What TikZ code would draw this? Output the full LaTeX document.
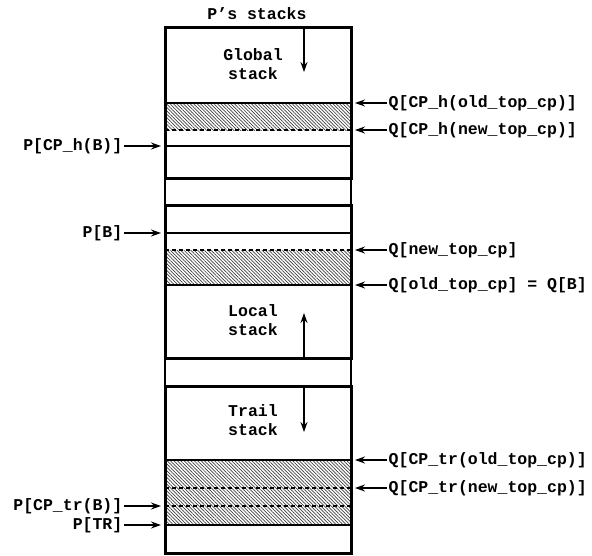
\documentclass[tikz,border=0pt]{standalone}
\usepackage{fontspec}
\setmonofont{Liberation Mono}
\usetikzlibrary{arrows.meta,positioning,patterns.meta}

\tikzset{
  lbl/.style={font=\fontsize{16.5}{19}\selectfont\ttfamily\bfseries, inner xsep=1.5pt, inner ysep=0pt},
  ptr/.style={-{Stealth[length=10pt,width=7pt]}, line width=1.5pt},
  hatch/.style={pattern={Lines[angle=-45,distance=2.4pt,line width=0.7pt]}, pattern color=black!75},
  frame/.style={line width=3pt},
  sep/.style={line width=1.5pt},
  dsep/.style={line width=1.5pt, dash pattern=on 4pt off 3pt},
}

\begin{document}
\begin{tikzpicture}[x=1pt,y=-1pt]
    \useasboundingbox (0,0) rectangle (592,555);

    % hatched areas
    \fill[hatch] (165,103) rectangle (351,130);
    \fill[hatch] (165,250) rectangle (351,285);
    \fill[hatch] (165,460) rectangle (351,525);

    % thin outline through the gaps
    \draw[sep] (165,27) -- (165,553);
    \draw[sep] (351,27) -- (351,553);

    % separators
    \foreach \y in {103,146,233,285,460,525} {
        \draw[sep] (165,\y) -- (351,\y);
    }
    \foreach \y in {130,250,488,506} {
        \draw[dsep] (165,\y) -- (351,\y);
    }

    % the three stacks
    \draw[frame] (165,27) rectangle (351,178);
    \draw[frame] (165,205) rectangle (351,358);
    \draw[frame] (165,386) rectangle (351,553);

    \node[lbl] (title) at (257,14) {P’s stacks};
    \node[lbl,align=center] (global) at (253,64) {Global\\stack};
    \node[lbl,align=center] (local) at (253,320) {Local\\stack};
    \node[lbl,align=center] (trail) at (253,420) {Trail\\stack};

    % growth directions
    \coordinate (gtop) at (304,27);
    \coordinate (gend) at (304,72);
    \coordinate (lbot) at (304,358);
    \coordinate (lend) at (304,313);
    \coordinate (ttop) at (304,386);
    \coordinate (tend) at (304,432);
    \draw[ptr] (gtop) -- (gend);
    \draw[ptr] (lbot) -- (lend);
    \draw[ptr] (ttop) -- (tend);

    % pointers into Q
    \foreach \y/\nm/\txt in {103/qhold/{Q[CP\_h(old\_top\_cp)]},
                             130/qhnew/{Q[CP\_h(new\_top\_cp)]},
                             250/qnew/{Q[new\_top\_cp]},
                             285/qold/{Q[old\_top\_cp] = Q[B]},
                             460/qtrold/{Q[CP\_tr(old\_top\_cp)]},
                             488/qtrnew/{Q[CP\_tr(new\_top\_cp)]}} {
        \node[lbl,anchor=west] (\nm) at (387,\y) {\txt};
        \coordinate (\nm-tip) at (355,\y);
        \draw[ptr] (\nm) -- (\nm-tip);
    }

    % pointers into P
    \foreach \y/\nm/\txt in {146/phb/{P[CP\_h(B)]},
                             233/pb/{P[B]},
                             506/ptrb/{P[CP\_tr(B)]},
                             525/ptr/{P[TR]}} {
        \node[lbl,anchor=east] (\nm) at (124,\y) {\txt};
        \coordinate (\nm-tip) at (161,\y);
        \draw[ptr] (\nm) -- (\nm-tip);
    }
\end{tikzpicture}
\end{document}
